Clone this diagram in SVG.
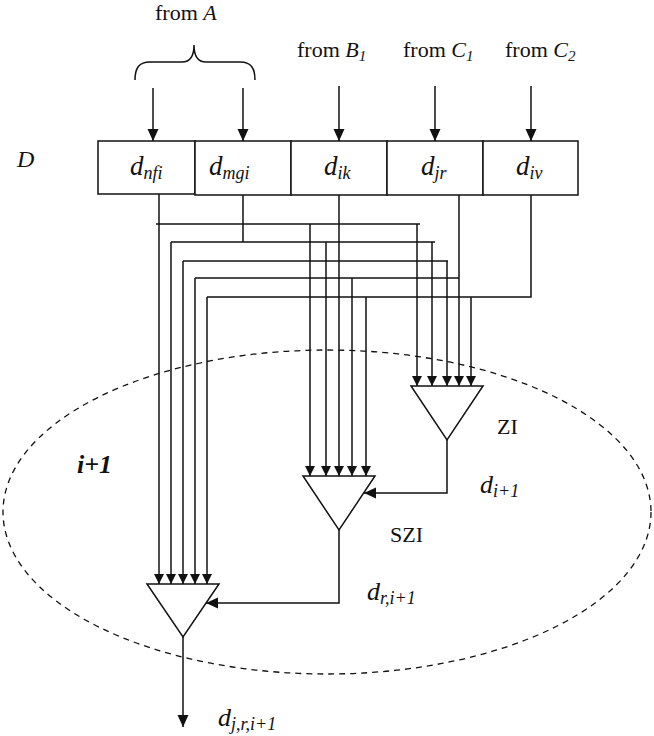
<svg xmlns="http://www.w3.org/2000/svg" width="654" height="736" viewBox="0 0 654 736">
<style>
text{font-family:"Liberation Serif","Times New Roman",serif;fill:#111}
.t{font-size:22px}
.i{font-style:italic}
.bx{font-size:27px;font-style:italic}
.lb{font-size:26px;font-style:italic}
.box{fill:#fff;stroke:#111;stroke-width:1.5}
.tri{fill:#fff;stroke:#111;stroke-width:1.5}
.w{fill:none;stroke:#111;stroke-width:1.5}
.big{marker-end:url(#ah)}
.sm{marker-end:url(#as)}
</style>
<defs>
<marker id="ah" markerUnits="userSpaceOnUse" markerWidth="12" markerHeight="12" refX="12" refY="5.5" orient="auto"><path d="M0,0 L12,5.5 L0,11 z" fill="#111"/></marker>
<marker id="as" markerUnits="userSpaceOnUse" markerWidth="11" markerHeight="11" refX="10" refY="5" orient="auto"><path d="M0,0 L10,5 L0,10 z" fill="#111"/></marker>
</defs>
<rect width="654" height="736" fill="#fff"/>

<g id="region">
<ellipse cx="327" cy="512" rx="324" ry="162" fill="none" stroke="#111" stroke-width="1.3" stroke-dasharray="6,5"/>
<text class="i" x="77" y="473" font-size="26" font-weight="bold">i+1</text>
</g>

<g id="fromA">
<text class="t" x="155" y="20">from <tspan class="i">A</tspan></text>
<path class="w" d="M135,80 C135,68 139,62 150,62 L182,62 C190,62 194,57 194,45 C194,57 198,62 206,62 L240,62 C251,62 255,68 255,80"/>
</g>
<g id="fromB1"><text class="t" x="297" y="57">from <tspan class="i">B</tspan><tspan class="i" font-size="15" dy="4">1</tspan></text></g>
<g id="fromC1"><text class="t" x="403" y="57">from <tspan class="i">C</tspan><tspan class="i" font-size="15" dy="4">1</tspan></text></g>
<g id="fromC2"><text class="t" x="505" y="57">from <tspan class="i">C</tspan><tspan class="i" font-size="15" dy="4">2</tspan></text></g>
<g id="labelD"><text class="i" x="17" y="167" font-size="24">D</text></g>

<g id="d_nfi"><rect class="box" x="98" y="141" width="97" height="53"/><text class="bx" x="130" y="175">d<tspan font-size="18" dy="4">nfi</tspan></text></g>
<g id="d_mgi"><rect class="box" x="195" y="141" width="96" height="54"/><text class="bx" x="209" y="175">d<tspan font-size="18" dy="4">mgi</tspan></text></g>
<g id="d_ik"><rect class="box" x="291" y="141" width="96" height="54"/><text class="bx" x="324" y="175">d<tspan font-size="18" dy="4">ik</tspan></text></g>
<g id="d_jr"><rect class="box" x="387" y="141" width="96" height="54"/><text class="bx" x="421" y="175">d<tspan font-size="18" dy="4">jr</tspan></text></g>
<g id="d_iv"><rect class="box" x="483" y="141" width="95" height="54"/><text class="bx" x="516" y="175">d<tspan font-size="18" dy="4">iv</tspan></text></g>

<g id="ZI"><polygon class="tri" points="411,386 483,386 447,440"/><text class="t" x="497" y="434">ZI</text></g>
<g id="SZI"><polygon class="tri" points="303,476 375,476 339,530"/><text class="t" x="390" y="542">SZI</text></g>
<g id="main"><polygon class="tri" points="147,584 219,584 183,637"/></g>

<g id="labels">
<text class="lb" x="480" y="493">d<tspan font-size="18" dy="4">i+1</tspan></text>
<text class="lb" x="367" y="600">d<tspan font-size="18" dy="4">r,i+1</tspan></text>
<text class="lb" x="218" y="726">d<tspan font-size="18" dy="4">j,r,i+1</tspan></text>
</g>

<g id="connectors">
<path class="w big" d="M153,88 V141"/>
<path class="w big" d="M243,88 V141"/>
<path class="w big" d="M339,86 V141"/>
<path class="w big" d="M435,86 V141"/>
<path class="w big" d="M531,86 V141"/>

<path class="w" d="M156,224 H420"/>
<path class="w sm" d="M159,194 V584"/>
<path class="w sm" d="M310,224 V476"/>
<path class="w sm" d="M417,224 V386"/>

<path class="w" d="M243,195 V242 M171,242 H435"/>
<path class="w sm" d="M171,242 V584"/>
<path class="w sm" d="M326,242 V476"/>
<path class="w sm" d="M432,242 V386"/>

<path class="w" d="M183,261 H448"/>
<path class="w sm" d="M183,261 V584"/>
<path class="w sm" d="M339,195 V476"/>
<path class="w sm" d="M447,261 V386"/>

<path class="w" d="M195,278 H459"/>
<path class="w sm" d="M195,278 V584"/>
<path class="w sm" d="M352,278 V476"/>
<path class="w sm" d="M459,195 V386"/>

<path class="w" d="M207,297 H531 V195"/>
<path class="w sm" d="M207,297 V584"/>
<path class="w sm" d="M366,297 V476"/>
<path class="w sm" d="M471,297 V386"/>

<path class="w big" d="M447,440 V493 H364"/>
<path class="w big" d="M339,530 V603 H206"/>
<path class="w big" d="M183,637 V727"/>
</g>
</svg>
